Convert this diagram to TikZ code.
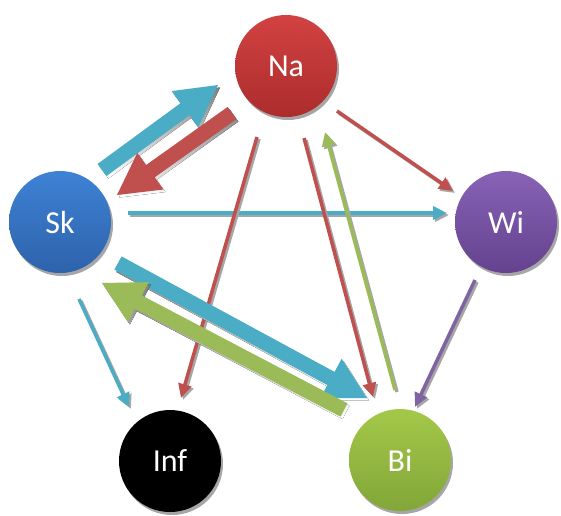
\documentclass[tikz,border=0pt]{standalone}
\usepackage{fontspec}
\setmainfont{Carlito}
\usetikzlibrary{arrows.meta,calc,shadows}

\definecolor{aquaC}{HTML}{4BACC6}
\definecolor{redC}{HTML}{C0504D}
\definecolor{greenC}{HTML}{9BBB59}
\definecolor{purpleC}{HTML}{8064A2}
\definecolor{shade}{HTML}{A6A6A6}

\tikzset{
  vertex/.style={circle, minimum size=102pt, inner sep=0pt, text=white,
    font=\fontsize{32}{38}\selectfont,
    drop shadow={shadow xshift=2pt, shadow yshift=-3pt, fill=shade, opacity=1}},
  linkpen/.style={line width=3.5pt, -{Triangle[length=14pt,width=13pt]}},
}

% thin arrow with an offset grey shadow: colour, tail, tip
\newcommand\linkarrow[3]{%
  \draw[linkpen, draw=shade, transform canvas={shift={(2pt,-2pt)}}] #2 -- #3;
  \draw[linkpen, draw=#1] #2 -- #3;}

% broad block arrow with an offset grey shadow: colour, tail, tip
\newcommand\blockarrow[3]{%
  \coordinate (bt) at #2;
  \coordinate (bh) at #3;
  \coordinate (bb) at ($(bh)!41pt!(bt)$);
  \def\bpath{($(bt)!7.5pt!90:(bh)$) -- ($(bb)!7.5pt!-90:(bt)$)
    -- ($(bb)!22.5pt!-90:(bt)$) -- (bh) -- ($(bb)!22.5pt!90:(bt)$)
    -- ($(bb)!7.5pt!90:(bt)$) -- ($(bt)!7.5pt!-90:(bh)$) -- cycle}
  \fill[shade, transform canvas={shift={(2pt,-2.5pt)}}] \bpath;
  \fill[#1] \bpath;}

\begin{document}
\begin{tikzpicture}[x=1pt, y=-1pt]
\useasboundingbox (0,0) rectangle (561,515);

% nodes
\node[vertex, top color={rgb,255:red,210;green,66;blue,66}, bottom color={rgb,255:red,172;green,44;blue,44}] (na) at (286,66) {Na};
\node[vertex, top color={rgb,255:red,62;green,130;blue,212}, bottom color={rgb,255:red,46;green,98;blue,172}] (sk) at (60,222) {Sk};
\node[vertex, top color={rgb,255:red,136;green,98;blue,182}, bottom color={rgb,255:red,100;green,66;blue,142}] (wi) at (506,222) {Wi};
\node[vertex, fill=black] (inf) at (170,461) {Inf};
\node[vertex, top color={rgb,255:red,164;green,200;blue,72}, bottom color={rgb,255:red,130;green,166;blue,56}] (bi) at (400,460) {Bi};

% thin connectors
\linkarrow{aquaC}{([shift={(68,-9)}]sk.center)}{([shift={(-59,-9)}]wi.center)}
\linkarrow{redC}{([shift={(51,45)}]na.center)}{([shift={(-53,-31)}]wi.center)}
\linkarrow{redC}{([shift={(-29,71)}]na.center)}{([shift={(11,-63)}]inf.center)}
\linkarrow{redC}{([shift={(18,72)}]na.center)}{([shift={(-27,-63)}]bi.center)}
\linkarrow{greenC}{([shift={(-5,-70)}]bi.center)}{([shift={(39,66)}]na.center)}
\linkarrow{purpleC}{([shift={(-31,58)}]wi.center)}{([shift={(15,-53)}]bi.center)}
\linkarrow{aquaC}{([shift={(19,77)}]sk.center)}{([shift={(-41,-54)}]inf.center)}

% block connectors
\blockarrow{aquaC}{([shift={(42,-52)}]sk.center)}{([shift={(-68,19)}]na.center)}
\blockarrow{redC}{([shift={(-54,47)}]na.center)}{([shift={(57,-27)}]sk.center)}
\blockarrow{aquaC}{([shift={(58,41)}]sk.center)}{([shift={(-33,-62)}]bi.center)}
\blockarrow{greenC}{([shift={(-56,-50)}]bi.center)}{([shift={(42,61)}]sk.center)}
\end{tikzpicture}
\end{document}
